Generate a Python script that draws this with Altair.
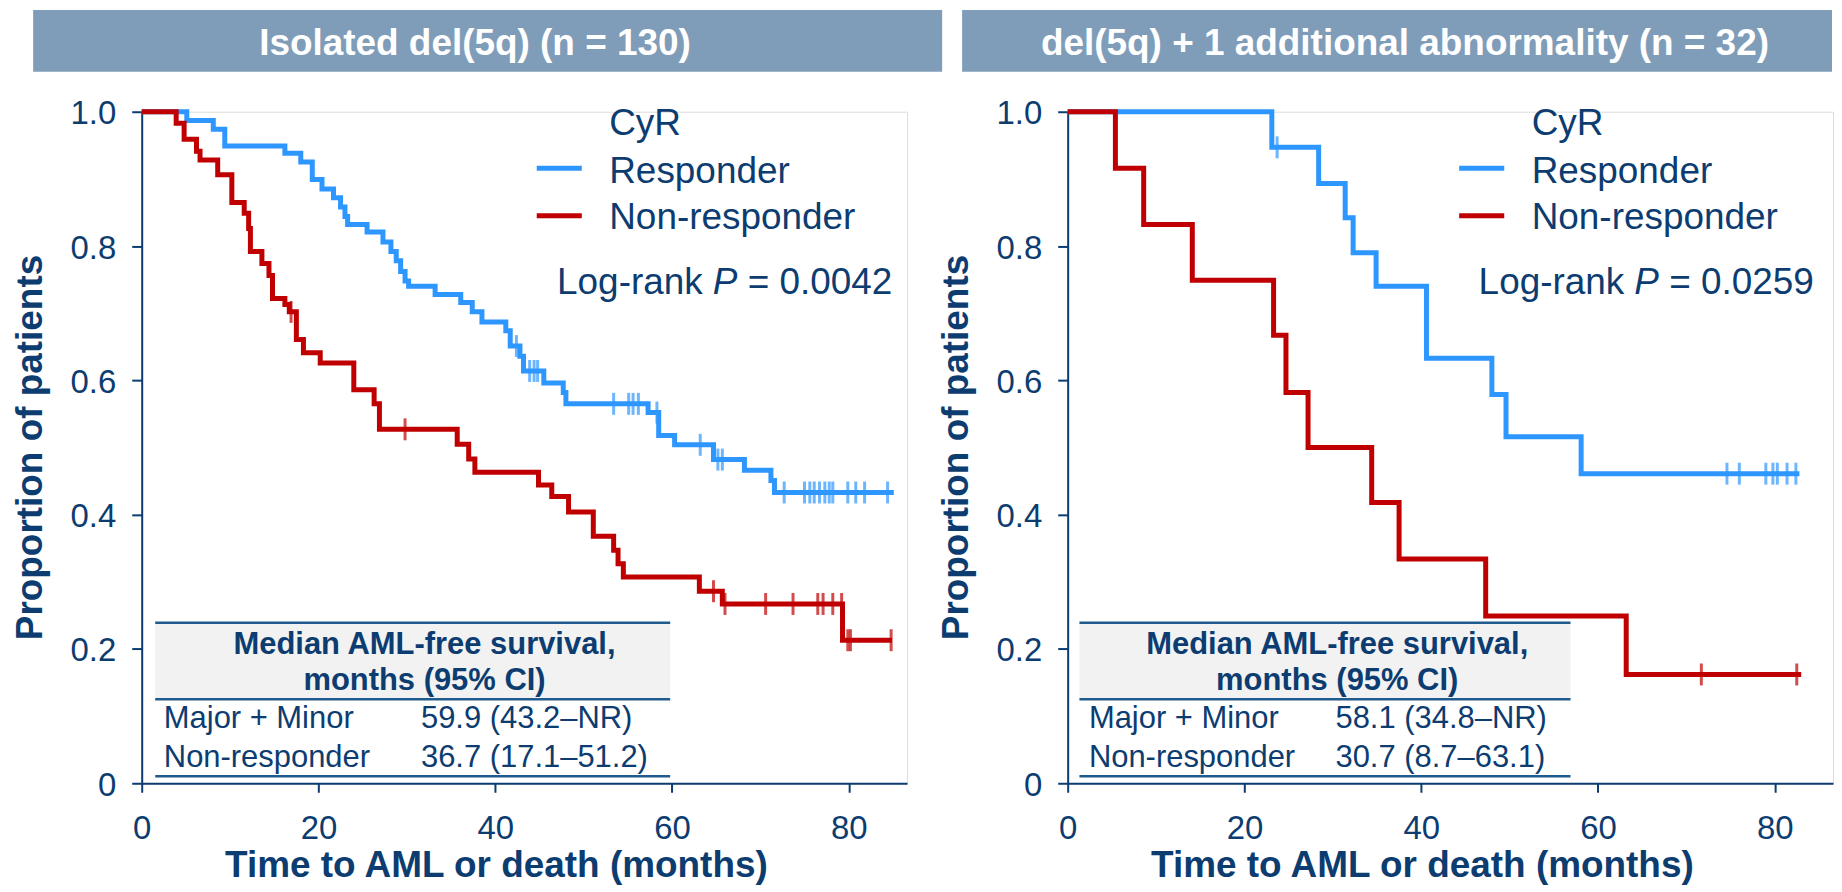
import altair as alt
import pandas as pd

FONT = "Liberation Sans"
NAVY = "#0c3c70"
BLUE = "#2e96ff"
RED = "#c00000"
BANNER = "#7f9db9"
TLINE = "#1f5b8c"
TFILL = "#f2f2f2"

XMAX = 86.6
W, H = 767, 673

# ---------------- data: panel A (isolated del(5q)) ----------------
a_title = "Isolated del(5q) (n = 130)"
a_resp_t = [0, 5.1, 8.1, 9.4, 16.2, 18.0, 19.3, 20.4, 21.7, 22.5, 23.0, 23.3, 25.5, 27.3, 28.2,
            28.8, 29.3, 29.8, 30.2, 33.2, 36.1, 37.4, 38.5, 41.2, 41.7, 42.8, 43.2, 45.5, 47.7,
            48.0, 57.3, 58.5, 60.3, 64.7, 68.2, 71.2, 71.6]
a_resp_s = [1.0, 0.987, 0.974, 0.949, 0.938, 0.925, 0.899, 0.885, 0.872, 0.858, 0.844, 0.832,
            0.821, 0.806, 0.792, 0.778, 0.762, 0.748, 0.740, 0.728, 0.716, 0.702, 0.687, 0.674,
            0.651, 0.636, 0.614, 0.596, 0.582, 0.565, 0.552, 0.518, 0.504, 0.482, 0.466, 0.451,
            0.433]
a_resp_end = 85.1
a_resp_cens = [42.4, 43.9, 44.4, 44.8, 53.4, 55.1, 55.6, 56.2, 58.3, 63.2, 65.2, 65.7, 72.7,
               75.0, 75.6, 76.1, 76.7, 77.3, 77.8, 78.2, 79.9, 80.8, 81.8, 84.4]

a_non_t = [0, 3.9, 4.8, 6.2, 6.6, 8.6, 10.2, 11.6, 12.1, 12.3, 13.6, 14.4, 14.8, 16.2, 16.7,
           17.5, 18.3, 20.2, 24.0, 26.3, 26.9, 35.7, 37.0, 37.7, 44.9, 46.4, 48.3, 51.1, 53.4,
           53.9, 54.5, 63.1, 65.7, 79.3]
a_non_s = [1.0, 0.983, 0.959, 0.941, 0.928, 0.906, 0.865, 0.849, 0.826, 0.792, 0.774, 0.756,
           0.722, 0.713, 0.702, 0.661, 0.641, 0.626, 0.586, 0.565, 0.527, 0.505, 0.483, 0.463,
           0.444, 0.427, 0.404, 0.368, 0.347, 0.327, 0.307, 0.286, 0.267, 0.213]
a_non_end = 84.9
a_non_cens = [16.9, 29.8, 64.7, 66.0, 70.6, 73.7, 76.5, 77.1, 78.2, 79.2, 79.9, 80.2, 84.8]
a_p = "0.0042"
a_rows = ["Major + Minor", "Non-responder"]
a_vals = ["59.9 (43.2\u2013NR)", "36.7 (17.1\u201351.2)"]

# ---------------- data: panel B (del(5q) + 1) ----------------
b_title = "del(5q) + 1 additional abnormality (n = 32)"
b_resp_t = [0, 23.1, 28.4, 31.4, 32.3, 34.9, 40.6, 48.0, 49.6, 58.1]
b_resp_s = [1.0, 0.947, 0.893, 0.842, 0.790, 0.740, 0.633, 0.579, 0.516, 0.461]
b_resp_end = 82.8
b_resp_cens = [23.7, 74.6, 76.0, 79.0, 79.8, 80.3, 81.4, 82.4]

b_non_t = [0, 5.4, 8.6, 14.1, 23.3, 24.7, 27.2, 34.4, 37.5, 47.3, 63.2]
b_non_s = [1.0, 0.916, 0.832, 0.749, 0.667, 0.582, 0.500, 0.418, 0.334, 0.249, 0.162]
b_non_end = 83.0
b_non_cens = [71.7, 82.5]
b_p = "0.0259"
b_rows = ["Major + Minor", "Non-responder"]
b_vals = ["58.1 (34.8\u2013NR)", "30.7 (8.7\u201363.1)"]

legend_title = "CyR"
legend_labels = ["Responder", "Non-responder"]
table_header = ["Median AML-free survival,", "months (95% CI)"]

# ---------------- layout (positions, not data) ----------------
LAYOUT = {
    "A": dict(tab0=1.53, tab1=59.8, hcen=32.0, col1=2.5, col2=31.6, leg0=44.7, leg1=49.8,
              legt=52.9, lr=47.0, ban0=-108.8, ban1=802.2, tcen=334),
    "B": dict(tab0=1.33, tab1=56.9, hcen=30.5, col1=2.4, col2=30.3, leg0=44.3, leg1=49.4,
              legt=52.5, lr=46.5, ban0=-105.8, ban1=766, tcen=338),
}
BIG = 37


def steps(times, survs, end):
    return pd.DataFrame({"t": list(times) + [end], "s": list(survs) + [survs[-1]]})


def censored(times, survs, ctimes):
    lv = []
    for c in ctimes:
        level = survs[0]
        for ti, si in zip(times, survs):
            if ti <= c:
                level = si
        lv.append(level)
    return pd.DataFrame({"t": ctimes, "s": lv})


xaxis = alt.Axis(values=[0, 20, 40, 60, 80], title="Time to AML or death (months)", grid=False,
                 domainColor=NAVY, domainWidth=2, tickColor=NAVY, tickWidth=2, tickSize=9,
                 labelColor=NAVY, labelFont=FONT, labelFontSize=33, labelPadding=46,
                 labelBaseline="alphabetic", labelFlush=False, labelOverlap=False,
                 titleFont=FONT, titleFontSize=BIG, titleFontWeight="bold", titleColor=NAVY,
                 titleX=355, titleY=93, titleBaseline="alphabetic", titleAlign="center")
yaxis = alt.Axis(values=[0, 0.2, 0.4, 0.6, 0.8, 1.0],
                 labelExpr="datum.value == 0 ? '0' : format(datum.value, '.1f')",
                 title="Proportion of patients", grid=False,
                 domainColor=NAVY, domainWidth=2, tickColor=NAVY, tickWidth=2, tickSize=10,
                 labelColor=NAVY, labelFont=FONT, labelFontSize=33, labelPadding=16,
                 labelBaseline="alphabetic", labelOffset=12, labelFlush=False, labelOverlap=False,
                 titleFont=FONT, titleFontSize=BIG, titleFontWeight="bold", titleColor=NAVY,
                 titleX=-100, titleY=336, titleAngle=270, titleBaseline="alphabetic",
                 titleAlign="center")

XS = alt.Scale(domain=[0, XMAX], nice=False, zero=False)
YS = alt.Scale(domain=[0, 1], nice=False)


def X(f="t"):
    return alt.X(f"{f}:Q", scale=XS, axis=xaxis)


def Y(f="s"):
    return alt.Y(f"{f}:Q", scale=YS, axis=yaxis)


def panel(key, title, rt, rs, rend, rc, nt, ns, nend, nc, p, rows, vals):
    L = LAYOUT[key]
    one = pd.DataFrame({"k": [0]})
    banner = alt.Chart(one).mark_rect(color=BANNER).encode(
        x=alt.value(L["ban0"]), x2=alt.value(L["ban1"]), y=alt.value(-102), y2=alt.value(-40))
    btext = alt.Chart(one).mark_text(text=title, font=FONT, fontSize=BIG, fontWeight="bold",
                                     color="white", align="center", baseline="alphabetic").encode(
        x=alt.value(L["tcen"]), y=alt.value(-57))

    # table
    band = alt.Chart(pd.DataFrame({"t": [L["tab0"]], "t2": [L["tab1"]], "s": [0.125], "s2": [0.239]})
                     ).mark_rect(color=TFILL).encode(x=X(), x2="t2:Q", y=Y(), y2="s2:Q")
    tlines = alt.Chart(pd.DataFrame({"t": [L["tab0"]] * 3, "t2": [L["tab1"]] * 3,
                                     "s": [0.239, 0.125, 0.0104]})
                       ).mark_rule(color=TLINE, strokeWidth=2.5).encode(x=X(), x2="t2:Q", y=Y())
    head = alt.Chart(pd.DataFrame({"t": [L["hcen"]] * 2, "s": [0.193, 0.139], "txt": table_header})
                     ).mark_text(font=FONT, fontSize=31, fontWeight="bold", color=NAVY,
                                 align="center", baseline="alphabetic").encode(x=X(), y=Y(), text="txt:N")
    body = alt.Chart(pd.DataFrame({"t": [L["col1"], L["col1"], L["col2"], L["col2"]],
                                   "s": [0.0817, 0.0248, 0.0817, 0.0248],
                                   "txt": rows + vals})
                     ).mark_text(font=FONT, fontSize=31, color=NAVY, align="left",
                                 baseline="alphabetic").encode(x=X(), y=Y(), text="txt:N")

    # curves
    rl = alt.Chart(steps(rt, rs, rend)).mark_line(interpolate="step-after", strokeWidth=5,
                                                  color=BLUE).encode(x=X(), y=Y())
    nl = alt.Chart(steps(nt, ns, nend)).mark_line(interpolate="step-after", strokeWidth=5,
                                                  color=RED).encode(x=X(), y=Y())
    rct = alt.Chart(censored(rt, rs, rc)).mark_tick(orient="vertical", size=22, thickness=3,
                                                    color=BLUE).encode(x=X(), y=Y())
    nct = alt.Chart(censored(nt, ns, nc)).mark_tick(orient="vertical", size=22, thickness=3,
                                                    color=RED).encode(x=X(), y=Y())

    # legend
    leg_l = alt.Chart(pd.DataFrame({"t": [L["leg0"]] * 2, "t2": [L["leg1"]] * 2,
                                    "s": [0.916, 0.845], "g": legend_labels})
                      ).mark_rule(strokeWidth=5).encode(
        x=X(), x2="t2:Q", y=Y(),
        color=alt.Color("g:N", scale=alt.Scale(domain=legend_labels, range=[BLUE, RED]), legend=None))
    leg_t = alt.Chart(pd.DataFrame({"t": [L["legt"]] * 3, "s": [0.966, 0.894, 0.826],
                                    "txt": [legend_title] + legend_labels})
                      ).mark_text(font=FONT, fontSize=BIG, color=NAVY, align="left",
                                  baseline="alphabetic").encode(x=X(), y=Y(), text="txt:N")
    lrdf = pd.DataFrame({"t": [L["lr"]], "s": [0.728]})
    lr1 = alt.Chart(lrdf).mark_text(text="Log-rank", font=FONT, fontSize=BIG, color=NAVY,
                                    align="left", baseline="alphabetic").encode(x=X(), y=Y())
    lr2 = alt.Chart(lrdf).mark_text(text="P", font=FONT, fontSize=BIG, fontStyle="italic", color=NAVY,
                                    align="left", baseline="alphabetic", dx=156).encode(x=X(), y=Y())
    lr3 = alt.Chart(lrdf).mark_text(text="= " + p, font=FONT, fontSize=BIG, color=NAVY,
                                    align="left", baseline="alphabetic", dx=191).encode(x=X(), y=Y())

    return alt.layer(banner, btext, band, tlines, head, body, rl, nl, rct, nct,
                     leg_l, leg_t, lr1, lr2, lr3).properties(width=W, height=H)


A = panel("A", a_title, a_resp_t, a_resp_s, a_resp_end, a_resp_cens,
          a_non_t, a_non_s, a_non_end, a_non_cens, a_p, a_rows, a_vals)
B = panel("B", b_title, b_resp_t, b_resp_s, b_resp_end, b_resp_cens,
          b_non_t, b_non_s, b_non_end, b_non_cens, b_p, b_rows, b_vals)

chart = alt.hconcat(A, B, spacing=161, bounds="flush").properties(
    padding={"left": 3, "top": 0, "right": 0, "bottom": 0}).configure_view(
    stroke=None).configure(background="white")

chart.save("out.html", embed_options={"renderer": "svg", "actions": False})
